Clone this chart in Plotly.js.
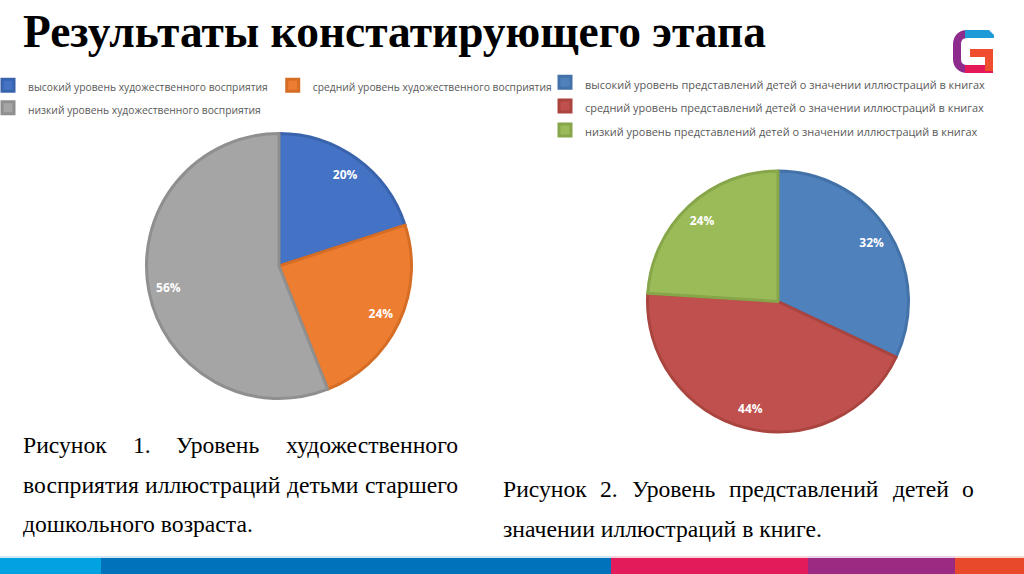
<!DOCTYPE html>
<html>
<head>
<meta charset="utf-8">
<script src="https://cdn.plot.ly/plotly-3.0.1.min.js"></script>
<style>
html,body{margin:0;padding:0;background:#fff;overflow:hidden;width:1024px;height:574px;}
#b,#a{position:absolute;left:0;top:0;height:574px;}
#b{width:1024px;}
#a{width:640px;}
</style>
</head>
<body>
<div id="b"></div>
<div id="a"></div>
<script>
// ---------- data ----------
const cats1 = ['высокий уровень художественного восприятия',
               'средний уровень художественного восприятия',
               'низкий уровень художественного восприятия'];
const vals1 = [20, 24, 56];
const colors1 = ['#4472C4', '#ED7D31', '#A5A5A5'];
const borders1 = ['#3a63ad', '#d66d25', '#8f8f8f'];

const cats2 = ['высокий уровень представлений детей о значении иллюстраций в книгах',
               'средний уровень представлений детей о значении иллюстраций в книгах',
               'низкий уровень представлений детей о значении иллюстраций в книгах'];
const vals2 = [32, 44, 24];
const colors2 = ['#4F81BD', '#C0504D', '#9BBB59'];
const borders2 = ['#4372a8', '#a9443f', '#87a64a'];

const titleText = 'Результаты констатирующего этапа';
const caption1 = ['Рисунок 1. Уровень художественного',
                  'восприятия иллюстраций детьми старшего',
                  'дошкольного возраста.'];
const caption2 = ['Рисунок 2. Уровень представлений детей о',
                  'значении иллюстраций в книге.'];

// ---------- helpers ----------
const W = 1024, H = 574;
const PX = x => x / W, PY = y => 1 - y / H;
const cv = document.createElement('canvas').getContext('2d');
function tw(text, font) { cv.font = font; return cv.measureText(text).width; }

const SANS = 'Open Sans';
const SERIF = 'Liberation Serif';
const lfs1 = 10 * 240 / tw(cats1[0], '10px "' + SANS + '"');     // legend 1 text size
const lfs2 = 10 * 400 / tw(cats2[0], '10px "' + SANS + '"');     // legend 2 text size
const tfs = 40 * 743 / tw(titleText, 'bold 40px "' + SERIF + '"'); // title size
const cfs = 20 * 230 / tw('дошкольного возраста.', '20px "' + SERIF + '"'); // caption size
const span = fs => s => '<span style="font-size:' + fs.toFixed(2) + 'px">' + s + '</span>';
const clear3 = ['rgba(0,0,0,0)', 'rgba(0,0,0,0)', 'rgba(0,0,0,0)'];

function lineAnns(text, x0, x1, baseline, justify) {
  const font = cfs + 'px "' + SERIF + '"';
  const yc = PY(baseline - 0.34 * cfs);
  const base = {xref: 'paper', yref: 'paper', xanchor: 'left', yanchor: 'middle', showarrow: false,
    borderpad: 0, font: {family: SERIF, size: cfs, color: '#000'}};
  if (!justify) return [Object.assign({}, base, {x: PX(x0), y: yc, text: text})];
  const words = text.split(' ');
  const widths = words.map(w => tw(w, font));
  const sum = widths.reduce((a, b) => a + b, 0);
  const gap = (x1 - x0 - sum) / (words.length - 1);
  let x = x0;
  return words.map((w, i) => { const a = Object.assign({}, base, {x: PX(x), y: yc, text: w}); x += widths[i] + gap; return a; });
}

function path(cmds) {
  return cmds.map(c => c[0] + c.slice(1).map((v, i) => i % 2 === 0 ? PX(v) : PY(v)).reduce((s, v, i) => s + (i % 2 === 0 ? (i ? ' ' : '') + v : ',' + v), '')).join(' ');
}
function rect(x0, y0, x1, y1, color) {
  return {type: 'rect', xref: 'paper', yref: 'paper', x0: PX(x0), x1: PX(x1), y0: PY(y1), y1: PY(y0),
    fillcolor: color, line: {width: 0}, layer: 'above'};
}
function poly(cmds, color) {
  return {type: 'path', xref: 'paper', yref: 'paper', path: path(cmds) + ' Z', fillcolor: color, line: {width: 0}};
}
function stroke(cmds, color, w) {
  return {type: 'path', xref: 'paper', yref: 'paper', path: path(cmds), fillcolor: 'rgba(0,0,0,0)', line: {color: color, width: w}};
}

// ---------- main (right pie + slide decoration) ----------
const shapesB = [
  // bottom colour strip
  rect(0, 556, 101, 558, '#cfeaf6'), rect(101, 556, 611, 558, '#d5e6f3'),
  rect(611, 556, 808, 558, '#f7d3de'), rect(808, 556, 955, 558, '#ead3e4'), rect(955, 556, 1024, 558, '#f8d9cf'),
  rect(0, 558, 101, 574, '#00a3e0'), rect(101, 558, 611, 574, '#0072bb'),
  rect(611, 558, 808, 574, '#e31b5b'), rect(808, 558, 955, 574, '#9b2a82'), rect(955, 558, 1024, 574, '#e8492a'),
  // logo
  stroke([['M', 967, 34], ['C', 961, 34, 957, 38, 957, 44], ['L', 957, 59], ['C', 957, 65, 961, 69, 967, 69]], '#8e2c8e', 8),
  poly([['M', 965, 30], ['L', 989, 30], ['L', 994, 35], ['L', 994, 38], ['L', 965, 38]], '#1e9bd7'),
  poly([['M', 965, 65], ['L', 993, 65], ['L', 993, 73], ['L', 965, 73]], '#e3195a'),
  poly([['M', 970, 49], ['L', 993, 49], ['L', 993, 71], ['L', 985, 71], ['L', 985, 57], ['L', 970, 57]], '#ee4e2e')
];

const annB = [
  {xref: 'paper', yref: 'paper', x: PX(21.7), y: PY(47.3 - 0.34 * tfs), xanchor: 'left', yanchor: 'middle',
   showarrow: false, borderpad: 0, text: titleText, font: {family: SERIF, size: tfs, color: '#000', weight: 700}}
].concat(
  lineAnns(caption1[0], 21.7, 456.7, 453.3, true),
  lineAnns(caption1[1], 21.7, 456.7, 493.3, true),
  lineAnns(caption1[2], 21.7, 456.7, 532.3, false),
  lineAnns(caption2[0], 501.7, 973.3, 497.3, true),
  lineAnns(caption2[1], 501.7, 973.3, 536.7, false)
);

const dom2 = {x: [PX(778 - 130.5), PX(778 + 130.5)], y: [PY(432), PY(171)]};
const tracesB = [
  {type: 'pie', values: vals2, labels: cats2.map(span(lfs2)), sort: false, direction: 'clockwise', rotation: 0,
   marker: {colors: colors2, line: {color: borders2, width: 3}}, textinfo: 'none', hoverinfo: 'skip', domain: dom2},
  {type: 'pie', values: vals2, labels: cats2, sort: false, direction: 'clockwise', rotation: 0, hole: 0.7,
   marker: {colors: clear3, line: {width: 0}}, textinfo: 'percent', textposition: 'inside',
   insidetextorientation: 'horizontal', textfont: {family: SANS, size: 12, color: '#fff', weight: 700},
   showlegend: false, hoverinfo: 'skip', domain: dom2}
];
const layoutB = {
  width: W, height: H, margin: {l: 0, r: 0, t: 0, b: 0, autoexpand: false},
  paper_bgcolor: '#fff', plot_bgcolor: '#fff', showlegend: true,
  legend: {x: PX(545), y: PY(65.4), xanchor: 'left', yanchor: 'top', orientation: 'v',
    font: {family: SANS, size: 16, color: '#595959'}, bgcolor: 'rgba(0,0,0,0)', traceorder: 'normal'},
  shapes: shapesB, annotations: annB
};
Plotly.newPlot('b', tracesB, layoutB, {staticPlot: true, displayModeBar: false});

// ---------- overlay (left pie) ----------
const WA = 640, TA = 70;
const AX = x => x / WA, AY = y => (H - y) / (H - TA);
const dom1 = {x: [AX(279 - 132.5), AX(279 + 132.5)], y: [AY(398.5), AY(133.5)]};
const tracesA = [
  {type: 'pie', values: vals1, labels: cats1.map(span(lfs1)), sort: false, direction: 'clockwise', rotation: 0,
   marker: {colors: colors1, line: {color: borders1, width: 3}}, textinfo: 'none', hoverinfo: 'skip', domain: dom1},
  {type: 'pie', values: vals1, labels: cats1, sort: false, direction: 'clockwise', rotation: 0, hole: 0.7,
   marker: {colors: clear3, line: {width: 0}}, textinfo: 'percent', textposition: 'inside',
   insidetextorientation: 'horizontal', textfont: {family: SANS, size: 12, color: '#fff', weight: 700},
   showlegend: false, hoverinfo: 'skip', domain: dom1}
];
const layoutA = {
  width: WA, height: H, margin: {l: 0, r: 0, t: TA, b: 0, autoexpand: false},
  paper_bgcolor: 'rgba(0,0,0,0)', plot_bgcolor: 'rgba(0,0,0,0)', showlegend: true,
  legend: {x: AX(-12), y: AY(68.9), xanchor: 'left', yanchor: 'top', orientation: 'h',
    font: {family: SANS, size: 15.1, color: '#595959'}, bgcolor: 'rgba(0,0,0,0)', traceorder: 'normal'}
};
Plotly.newPlot('a', tracesA, layoutA, {staticPlot: true, displayModeBar: false});
</script>
</body>
</html>
